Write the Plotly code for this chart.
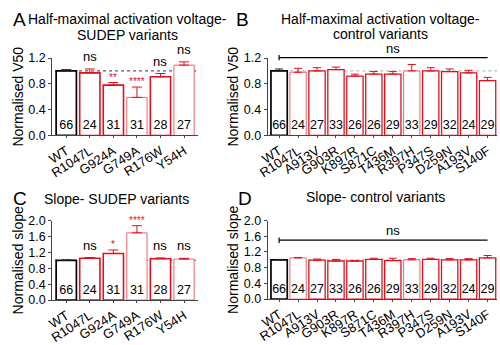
import plotly.graph_objects as go

# ---------------- data ----------------
sudep_cats = ["WT", "R1047L", "G924A", "G749A", "R176W", "Y54H"]
sudep_n = [66, 24, 31, 31, 28, 27]
sudep_v50 = [1.00, 0.97, 0.78, 0.59, 0.91, 1.09]
sudep_v50_err = [0.02, 0.06, 0.04, 0.16, 0.05, 0.05]
sudep_v50_sig = ["", "ns", "**", "****", "ns", "ns"]
sudep_slope = [1.00, 1.05, 1.17, 1.69, 1.04, 1.03]
sudep_slope_err = [0.01, 0.02, 0.09, 0.18, 0.02, 0.02]
sudep_slope_sig = ["", "ns", "*", "****", "ns", "ns"]

ctrl_cats = ["WT", "R1047L", "A913V", "G903R", "K897R", "S871C", "T436M",
             "R397H", "P347S", "D259N", "A193V", "S140F"]
ctrl_n = [66, 24, 27, 33, 26, 26, 29, 33, 29, 32, 24, 29]
ctrl_v50 = [1.00, 0.98, 1.00, 1.02, 0.92, 0.95, 0.95, 1.00, 1.00, 0.99, 0.97, 0.85]
ctrl_v50_err = [0.03, 0.06, 0.05, 0.04, 0.03, 0.04, 0.04, 0.10, 0.05, 0.04, 0.04, 0.05]
ctrl_slope = [1.00, 1.05, 0.99, 0.97, 0.97, 1.01, 0.98, 1.00, 1.01, 1.00, 1.00, 1.05]
ctrl_slope_err = [0.01, 0.01, 0.03, 0.04, 0.01, 0.03, 0.06, 0.03, 0.03, 0.03, 0.03, 0.06]

# ---------------- styles ----------------
FONT = "Arial, Liberation Sans, sans-serif"
RED = "#e3101c"
LIGHT = "#f0646c"
sudep_line_col = [RED, RED, LIGHT, RED, LIGHT]
sudep_line_w = [1.6, 1.6, 1.0, 1.6, 1.0]
ctrl_line_col = [LIGHT, RED, RED, RED, RED, RED, LIGHT, RED, RED, RED, RED]
ctrl_line_w = [1.0, 1.3, 1.3, 1.3, 1.3, 1.3, 1.0, 1.3, 1.3, 1.3, 1.3]

fig = go.Figure()


def add_panel(xa, ya, cats, vals, errs, ns, var_col, var_w, cap):
    fig.add_trace(go.Bar(
        x=cats[:1], y=vals[:1], xaxis=xa, yaxis=ya, width=0.86,
        marker=dict(color="white", line=dict(color="black", width=1.7)),
        error_y=dict(type="data", array=errs[:1], arrayminus=[0], symmetric=False,
                     color="#222", thickness=1, width=cap),
        text=[str(v) for v in ns[:1]], textposition="inside", insidetextanchor="start",
        textangle=0, constraintext="none",
        insidetextfont=dict(family=FONT, size=12.5, color="black"),
        hoverinfo="skip"))
    fig.add_trace(go.Bar(
        x=cats[1:], y=vals[1:], xaxis=xa, yaxis=ya, width=0.86,
        marker=dict(color="white", line=dict(color=var_col, width=var_w)),
        error_y=dict(type="data", array=errs[1:], arrayminus=[0] * (len(cats) - 1),
                     symmetric=False, color=RED, thickness=1, width=cap),
        text=[str(v) for v in ns[1:]], textposition="inside", insidetextanchor="start",
        textangle=0, constraintext="none",
        insidetextfont=dict(family=FONT, size=12.5, color="black"),
        hoverinfo="skip"))


add_panel("x", "y", sudep_cats, sudep_v50, sudep_v50_err, sudep_n, sudep_line_col, sudep_line_w, 5)
add_panel("x2", "y2", ctrl_cats, ctrl_v50, ctrl_v50_err, ctrl_n, ctrl_line_col, ctrl_line_w, 4)
add_panel("x3", "y3", sudep_cats, sudep_slope, sudep_slope_err, sudep_n, sudep_line_col, sudep_line_w, 5)
add_panel("x4", "y4", ctrl_cats, ctrl_slope, ctrl_slope_err, ctrl_n, ctrl_line_col, ctrl_line_w, 4)

annotations = []
shapes = []


def sig_labels(xr, yr, cats, vals, errs, sig):
    for c, v, e, s in zip(cats, vals, errs, sig):
        if not s:
            continue
        star = s.startswith("*")
        annotations.append(dict(
            x=c, y=v + e, xref=xr, yref=yr, text=s, showarrow=False,
            yanchor="bottom", yshift=-2 if star else 3,
            font=dict(family=FONT, size=10 if star else 13,
                      color=RED if star else "black")))


sig_labels("x", "y", sudep_cats, sudep_v50, sudep_v50_err, sudep_v50_sig)
sig_labels("x3", "y3", sudep_cats, sudep_slope, sudep_slope_err, sudep_slope_sig)

# dotted reference lines at 1.0
for xr, yr, col in [("x", "y", "#333"), ("x2", "y2", "#aaa"), ("x3", "y3", "#555"), ("x4", "y4", "#aaa")]:
    shapes.append(dict(type="line", xref=xr + " domain", yref=yr, x0=0.02, x1=1.0,
                       y0=1.0, y1=1.0, layer="below",
                       line=dict(color=col, width=1, dash="dot")))

# "ns" brackets for control panels
for xr, yr, yv, tick in [("x2", "y2 domain", 1.005, 0.035), ("x4", "y4", 1.5, 0.07)]:
    shapes.append(dict(type="line", xref=xr, yref=yr, x0=ctrl_cats[0], x1=ctrl_cats[-1],
                       y0=yv, y1=yv, line=dict(color="black", width=1.2)))
    shapes.append(dict(type="line", xref=xr, yref=yr, x0=ctrl_cats[0], x1=ctrl_cats[0],
                       y0=yv - tick, y1=yv + tick, line=dict(color="black", width=1.2)))
    annotations.append(dict(x=ctrl_cats[len(ctrl_cats) // 2], xref=xr, y=yv, yref=yr,
                            text="ns", showarrow=False, yanchor="bottom", yshift=0,
                            font=dict(family=FONT, size=13, color="black")))

# titles and panel letters (y given in pixel rows of the 345-px page)
H = 345.0
titles = [
    (0.24, 13, "Half-maximal activation voltage-"),
    (0.24, 30, "SUDEP variants"),
    (0.756, 13, "Half-maximal activation voltage-"),
    (0.756, 29, "control variants"),
    (0.218, 203, "Slope- SUDEP variants"),
    (0.745, 201, "Slope- control variants"),
]
for x, y, t in titles:
    annotations.append(dict(x=x, y=1 - y / H, xref="paper", yref="paper", text=t,
                            showarrow=False, xanchor="center", yanchor="middle",
                            font=dict(family=FONT, size=14, color="black")))
for x, y, t in [(0.002, 13, "A"), (0.458, 13, "B"), (0.002, 203, "C"), (0.462, 203, "D")]:
    annotations.append(dict(x=x, y=1 - y / H, xref="paper", yref="paper", text=t,
                            showarrow=False, xanchor="left", yanchor="middle",
                            font=dict(family=FONT, size=19, color="black")))

axis_common = dict(showline=True, linecolor="#444", linewidth=1, ticks="outside",
                   ticklen=3, tickcolor="#444", showgrid=False, zeroline=False,
                   tickfont=dict(family=FONT, size=12.5, color="black"))
xcommon = dict(axis_common, tickangle=-33, type="category", ticklen=2,
               tickfont=dict(family=FONT, size=13, color="black"))

ytitle_font = dict(family=FONT, size=14, color="black")

fig.update_layout(
    width=500, height=345, margin=dict(l=0, r=0, t=0, b=0),
    paper_bgcolor="white", plot_bgcolor="white", showlegend=False,
    barmode="overlay",
    xaxis=dict(xcommon, domain=[0.086, 0.384], range=[-0.6, 5.6], anchor="y"),
    yaxis=dict(axis_common, domain=[0.606, 0.8435], range=[0, 1.2], tickvals=[0, 0.4, 0.8, 1.2],
               ticktext=["0.0", "0.4", "0.8", "1.2"], anchor="x",
               title=dict(text="Normalised V50", font=ytitle_font, standoff=1)),
    xaxis2=dict(xcommon, domain=[0.526, 0.994], range=[-0.6, 11.5], anchor="y2"),
    yaxis2=dict(axis_common, domain=[0.606, 0.8435], range=[0, 1.2], tickvals=[0, 0.4, 0.8, 1.2],
                ticktext=["0.0", "0.4", "0.8", "1.2"], anchor="x2",
                title=dict(text="Normalised V50", font=ytitle_font, standoff=1)),
    xaxis3=dict(xcommon, domain=[0.086, 0.384], range=[-0.6, 5.6], anchor="y3"),
    yaxis3=dict(axis_common, domain=[0.101, 0.345], range=[0, 2.0],
                tickvals=[0, 0.4, 0.8, 1.2, 1.6, 2.0],
                ticktext=["0.0", "0.4", "0.8", "1.2", "1.6", "2.0"], anchor="x3",
                title=dict(text="Normalised slope", font=ytitle_font, standoff=1)),
    xaxis4=dict(xcommon, domain=[0.526, 0.994], range=[-0.6, 11.5], anchor="y4"),
    yaxis4=dict(axis_common, domain=[0.104, 0.345], range=[0, 2.0],
                tickvals=[0, 0.4, 0.8, 1.2, 1.6, 2.0],
                ticktext=["0.0", "0.4", "0.8", "1.2", "1.6", "2.0"], anchor="x4",
                title=dict(text="Normalised slope", font=ytitle_font, standoff=1)),
    annotations=annotations, shapes=shapes,
)

fig.write_html("out.html")
